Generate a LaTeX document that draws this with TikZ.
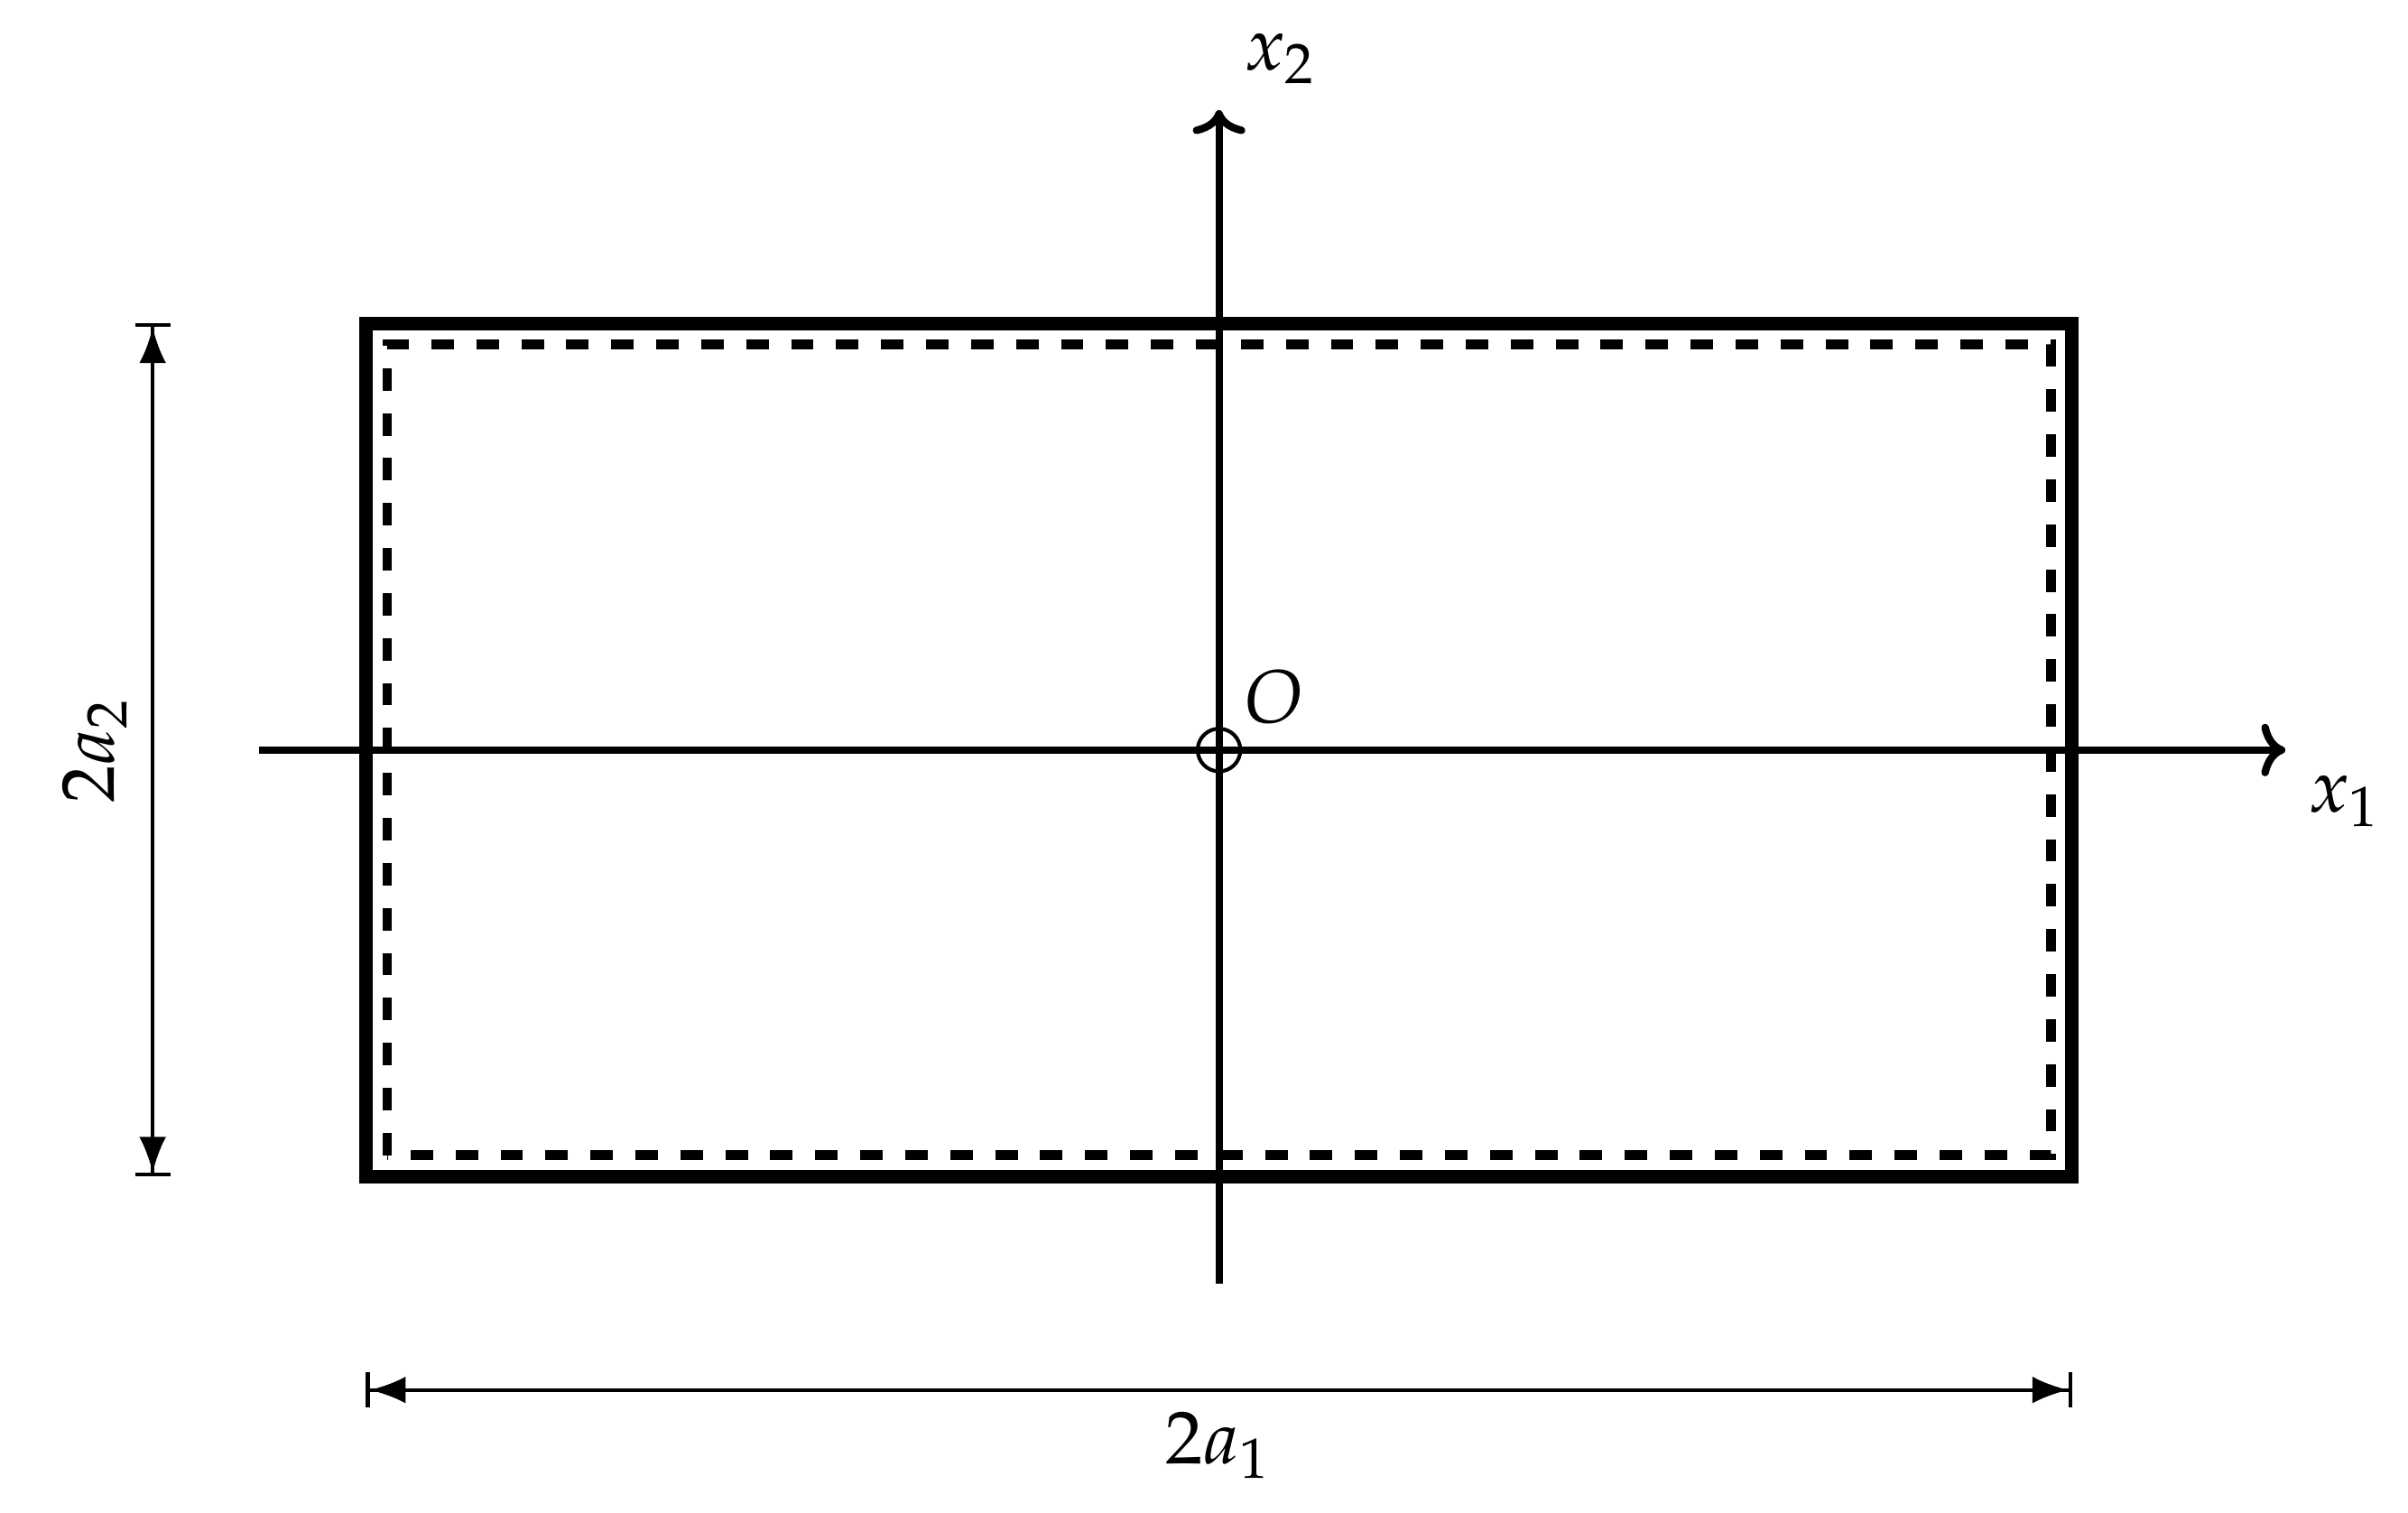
\documentclass[tikz,border=0pt]{standalone}
\usepackage{mathpazo}
\usetikzlibrary{arrows.meta,positioning}

\begin{document}
\begin{tikzpicture}[
  axis/.style={line width=1pt, -{To[length=3.2pt,width=7pt]}},
  plate/.style={line width=1.8pt},
  dashrect/.style={line width=1.3pt, dashed},
  dim/.style={line width=0.5pt,
    {Bar[width=4.7pt]Latex[length=4.8pt,width=3.6pt]}-{Latex[length=4.8pt,width=3.6pt]Bar[width=4.7pt]}},
  lbl/.style={inner sep=0pt}
]
  \useasboundingbox (-5.716,-3.573) rectangle (5.575,3.516);

  % plate and its dashed inner contour
  \draw[plate] (-4,-2) rectangle (4,2);
  \draw[dashrect] (-3.9,-1.9) rectangle (3.9,1.9);

  % axes
  \coordinate (west) at (-4.5,0);
  \coordinate (east) at (5,0);
  \coordinate (south) at (0,-2.5);
  \coordinate (north) at (0,3);
  \draw[axis] (west) -- (east);
  \draw[axis] (south) -- (north);
  \node[draw, circle, line width=0.5pt, minimum size=0.2cm, inner sep=0pt] (O) at (0,0) {};

  \node[lbl] (x1) at (5.28,-0.24) {$x_1$};
  \node[lbl] (x2) at (0.29,3.24) {$x_2$};
  \node[lbl] (olbl) at (0.26,0.25) {$O$};

  % dimensions
  \coordinate (ltop) at (-5,2);
  \coordinate (lbot) at (-5,-2);
  \coordinate (bleft) at (-4,-3);
  \coordinate (bright) at (4,-3);
  \draw[dim] (lbot) -- (ltop);
  \draw[dim] (bleft) -- (bright);
  \node[lbl, rotate=90] (h) at (-5.27,0) {$2a_2$};
  \node[lbl] (w) at (0,-3.26) {$2a_1$};
\end{tikzpicture}
\end{document}
